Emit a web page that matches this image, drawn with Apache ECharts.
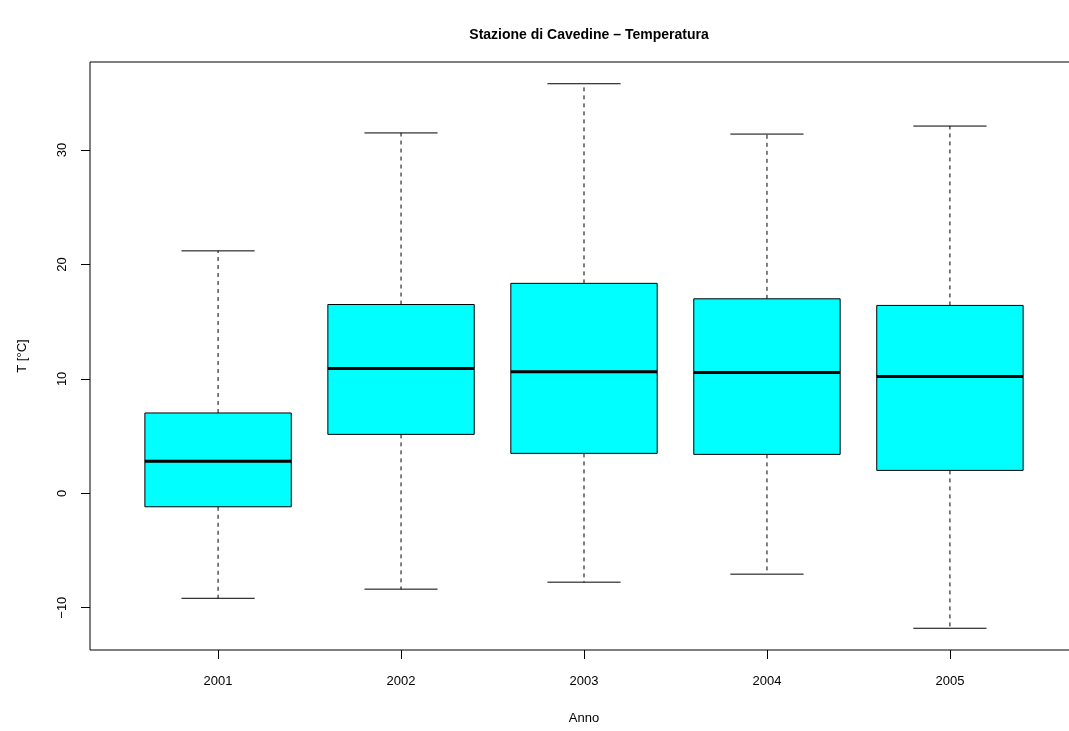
<!DOCTYPE html>
<html>
<head>
<meta charset="utf-8">
<script src="https://cdn.jsdelivr.net/npm/echarts@6/dist/echarts.min.js"></script>
<style>html,body{margin:0;padding:0;background:#fff}#c{width:1069px;height:731px}</style>
</head>
<body>
<div id="c"></div>
<script>
var categories = ['2001', '2002', '2003', '2004', '2005'];
var whiskerLow = [-9.18, -8.38, -7.77, -7.07, -11.8];
var q1 = [-1.18, 5.15, 3.49, 3.40, 2.00];
var median = [2.80, 10.90, 10.62, 10.55, 10.20];
var q3 = [7.02, 16.50, 18.35, 17.00, 16.42];
var whiskerHigh = [21.19, 31.50, 35.80, 31.40, 32.10];
var yTicks = [-10, 0, 10, 20, 30];

var data = categories.map(function (c, i) {
  return [i + 1, whiskerLow[i], q1[i], median[i], q3[i], whiskerHigh[i]];
});
var xPositions = categories.map(function (c, i) { return i + 1; });
var FONT = 'Liberation Sans, Arial, sans-serif';

var chart = echarts.init(document.getElementById('c'), null, {renderer: 'canvas'});
chart.setOption({
  animation: false,
  backgroundColor: '#ffffff',
  title: {
    text: 'Stazione di Cavedine \u2013 Temperatura',
    left: 584, top: 23, textAlign: 'center',
    textStyle: {fontFamily: FONT, fontSize: 14, fontWeight: 'bold', color: '#000'}
  },
  grid: {left: 90, right: -9, top: 62, bottom: 81, show: true, borderColor: '#000', borderWidth: 1,
    backgroundColor: 'transparent', containLabel: false, outerBoundsMode: 'none'},
  xAxis: {
    type: 'value', min: 0.3, max: 5.7,
    name: 'Anno', nameLocation: 'middle', nameGap: 62,
    nameTextStyle: {fontFamily: FONT, fontSize: 13, color: '#000'},
    splitLine: {show: false},
    axisLine: {show: false, onZero: false},
    axisTick: {show: true, length: 9, inside: false, customValues: xPositions, lineStyle: {color: '#000', width: 1}},
    axisLabel: {
      customValues: xPositions, margin: 25,
      fontFamily: FONT, fontSize: 13, color: '#000',
      formatter: function (v) { return categories[Math.round(v) - 1]; }
    }
  },
  yAxis: {
    type: 'value', min: -13.7, max: 37.7,
    name: 'T [\u00b0C]', nameLocation: 'middle', nameGap: 61, nameRotate: 90,
    nameTextStyle: {fontFamily: FONT, fontSize: 13, color: '#000'},
    splitLine: {show: false},
    axisLine: {show: false, onZero: false},
    axisTick: {show: true, length: 9, inside: false, customValues: yTicks, lineStyle: {color: '#000', width: 1}},
    axisLabel: {
      customValues: yTicks, rotate: 90, margin: 21,
      fontFamily: FONT, fontSize: 13, color: '#000',
      formatter: function (v) { return v < 0 ? '\u2212' + Math.abs(v) : String(v); }
    }
  },
  series: [{
    type: 'custom',
    clip: false,
    data: data,
    renderItem: function (params, api) {
      var x = api.value(0);
      var pMin = api.coord([x, api.value(1)]);
      var pQ1 = api.coord([x, api.value(2)]);
      var pMed = api.coord([x, api.value(3)]);
      var pQ3 = api.coord([x, api.value(4)]);
      var pMax = api.coord([x, api.value(5)]);
      var left = api.coord([x - 0.4, 0])[0];
      var right = api.coord([x + 0.4, 0])[0];
      var cl = api.coord([x - 0.2, 0])[0];
      var cr = api.coord([x + 0.2, 0])[0];
      var cx = pMed[0];
      var solid = {stroke: '#000', lineWidth: 1, fill: null};
      var dashed = {stroke: '#000', lineWidth: 1, lineDash: [4, 4], fill: null};
      return {
        type: 'group',
        children: [
          {type: 'line', shape: {x1: cx, y1: pQ3[1], x2: cx, y2: pMax[1]}, style: dashed},
          {type: 'line', shape: {x1: cx, y1: pQ1[1], x2: cx, y2: pMin[1]}, style: dashed},
          {type: 'line', shape: {x1: cl, y1: pMax[1], x2: cr, y2: pMax[1]}, style: solid},
          {type: 'line', shape: {x1: cl, y1: pMin[1], x2: cr, y2: pMin[1]}, style: solid},
          {type: 'rect', shape: {x: left, y: pQ3[1], width: right - left, height: pQ1[1] - pQ3[1]},
            style: {fill: '#00ffff', stroke: '#000', lineWidth: 1}},
          {type: 'line', shape: {x1: left, y1: pMed[1], x2: right, y2: pMed[1]}, style: {stroke: '#000', lineWidth: 3}}
        ]
      };
    }
  }]
});
</script>
</body>
</html>
